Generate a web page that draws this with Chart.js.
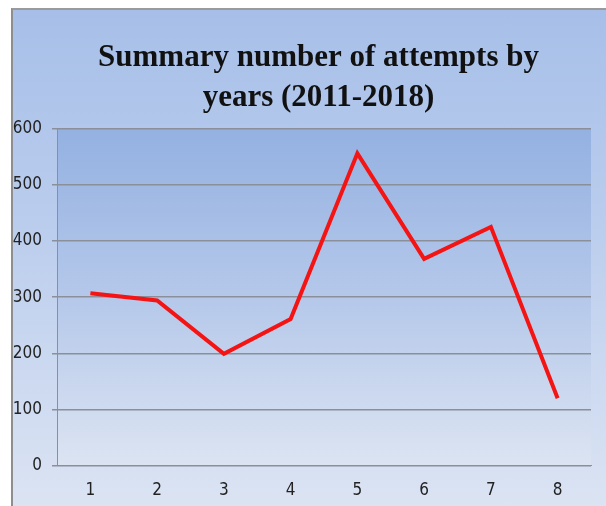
<!DOCTYPE html>
<html>
<head>
<meta charset="utf-8">
<script src="https://cdn.jsdelivr.net/npm/chart.js@4"></script>
<style>
html,body{margin:0;background:#fff;overflow:hidden;width:606px;height:506px;}
#box{position:absolute;left:11px;top:8px;width:611px;height:501px;border-left:2px solid #8e8e8e;border-top:2px solid #9a9a9a;
background:linear-gradient(to bottom,#a7bfe8 0%,#b9cced 40%,#dce4f3 100%);}
#myChart{position:absolute;left:0;top:0;}
</style>
</head>
<body>
<div id="box"><canvas id="myChart" width="611" height="501"></canvas></div>
<script>
// chart data
const titleLines = ['Summary number of attempts by','years (2011-2018)']
const years = ['1','2','3','4','5','6','7','8']
const attempts = [307,294,199,261,556,368,425,120]
const yTicks = [0,100,200,300,400,500,600]

const tickFont = {family:"'DejaVu Sans Condensed',sans-serif",size:17}

// fill the plot area with its own gradient
const plotBg = {
	id:'plotBg',
	beforeDraw(chart){
		const c = chart.ctx, a = chart.chartArea
		const g = c.createLinearGradient(0,a.top,0,a.bottom)
		g.addColorStop(0,'#94b1e1')
		g.addColorStop(0.5,'#b5c8ea')
		g.addColorStop(1,'#dce4f2')
		c.save()
		c.fillStyle = g
		c.fillRect(a.left,a.top,a.right-a.left,a.bottom-a.top)
		c.restore()
	}
}

canvas = document.getElementById('myChart')
const myChart = new Chart(canvas,{
	type:'line',
	data:{
		labels:years,
		datasets:[{
			data:attempts,
			borderColor:'#f41414',
			borderWidth:4,
			pointRadius:0,
			tension:0,
			fill:false
		}]
	},
	options:{
		responsive:false,
		animation:false,
		layout:{padding:0},
		scales:{
			x:{
				offset:true,
				grid:{display:false,drawTicks:true,tickLength:5,color:'#8a8f99'},
				border:{display:true,color:'#8a8f99',width:1},
				ticks:{color:'#222',font:tickFont,padding:10}
			},
			y:{
				min:yTicks[0],max:yTicks[yTicks.length-1],
				afterFit(scale){scale.width = 44},
				grid:{color:'#8a8f99',lineWidth:1.5,drawTicks:true,tickLength:5},
				border:{display:true,color:'#8a8f99',width:1},
				ticks:{stepSize:yTicks[1]-yTicks[0],color:'#222',font:tickFont,padding:10}
			},
			// empty right side so the title sits where it does in the picture
			yRight:{
				position:'right',
				afterFit(scale){scale.width = 33},
				grid:{display:false},
				border:{display:false},
				ticks:{display:false}
			}
		},
		plugins:{
			legend:{display:false},
			tooltip:{enabled:false},
			title:{
				display:true,
				text:titleLines,
				color:'#111',
				font:{family:'Liberation Serif',size:31,weight:'bold',lineHeight:1.3},
				padding:{top:28,bottom:10}
			}
		}
	},
	plugins:[plotBg]
})
</script>
</body>
</html>
